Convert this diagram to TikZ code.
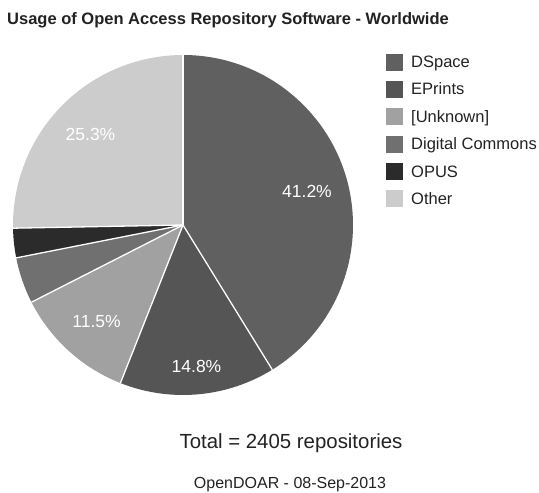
\documentclass[tikz,border=0pt]{standalone}
\usepackage{fontspec}
\setmainfont{Liberation Sans}
\definecolor{cDSpace}{RGB}{96,96,96}
\definecolor{cEPrints}{RGB}{85,85,85}
\definecolor{cUnknown}{RGB}{161,161,161}
\definecolor{cDC}{RGB}{112,112,112}
\definecolor{cOPUS}{RGB}{43,43,43}
\definecolor{cOther}{RGB}{204,204,204}
\definecolor{txt}{RGB}{34,34,34}
\tikzset{
  pctlabel/.style={text=white, inner sep=0pt, font=\fontsize{17.5}{20}\selectfont},
  legbox/.style={minimum size=17pt, inner sep=0pt, anchor=west},
  legtext/.style={text=txt, inner sep=0pt, anchor=base west, font=\fontsize{16.5}{18}\selectfont},
  sep/.style={draw=white, line width=1.3pt}
}
\begin{document}
\begin{tikzpicture}[x=1pt,y=1pt]
\useasboundingbox (0,0) rectangle (539,493);
\coordinate (C) at (183,268);
\def\R{170}
% slices
\foreach \a/\b/\c in {90/-58.32/cDSpace, -58.32/-111.6/cEPrints, -111.6/-153.0/cUnknown, -153.0/-168.84/cDC, -168.84/-178.92/cOPUS, -178.92/-270/cOther}{
  \fill[\c] (C) -- ++(\a:\R) arc[start angle=\a, end angle=\b, radius=\R] -- cycle;
}
\foreach \a in {90,-58.32,-111.6,-153.0,-168.84,-178.92}{
  \draw[sep] (C) -- ++(\a:\R);
}
% percentage labels
\node[pctlabel] (l1) at (307,302) {41.2\%};
\node[pctlabel] (l2) at (196.5,126.5) {14.8\%};
\node[pctlabel] (l3) at (96.5,171.5) {11.5\%};
\node[pctlabel] (l6) at (90.5,358.5) {25.3\%};
% title
\node[anchor=base west, inner sep=0pt, text=txt, font=\fontsize{16.5}{19}\selectfont\bfseries] (title) at (7,468) {Usage of Open Access Repository Software - Worldwide};
% legend
\foreach \n/\c/\t/\y in {a/cDSpace/DSpace/62.5, b/cEPrints/EPrints/89.5, c/cUnknown/{[Unknown]}/117, d/cDC/Digital Commons/144.5, e/cOPUS/OPUS/172, f/cOther/Other/199}{
  \node[legbox, fill=\c] (sq\n) at (386,493-\y) {};
  \node[legtext] (lt\n) at (411,493-\y-5.5) {\t};
}
% footer
\node[anchor=base, inner sep=0pt, text=txt, font=\fontsize{20.4}{23}\selectfont] (total) at (291,44) {Total = 2405 repositories};
\node[anchor=base, inner sep=0pt, text=txt, font=\fontsize{16}{18}\selectfont] (src) at (290,4) {OpenDOAR - 08-Sep-2013};
\end{tikzpicture}
\end{document}
